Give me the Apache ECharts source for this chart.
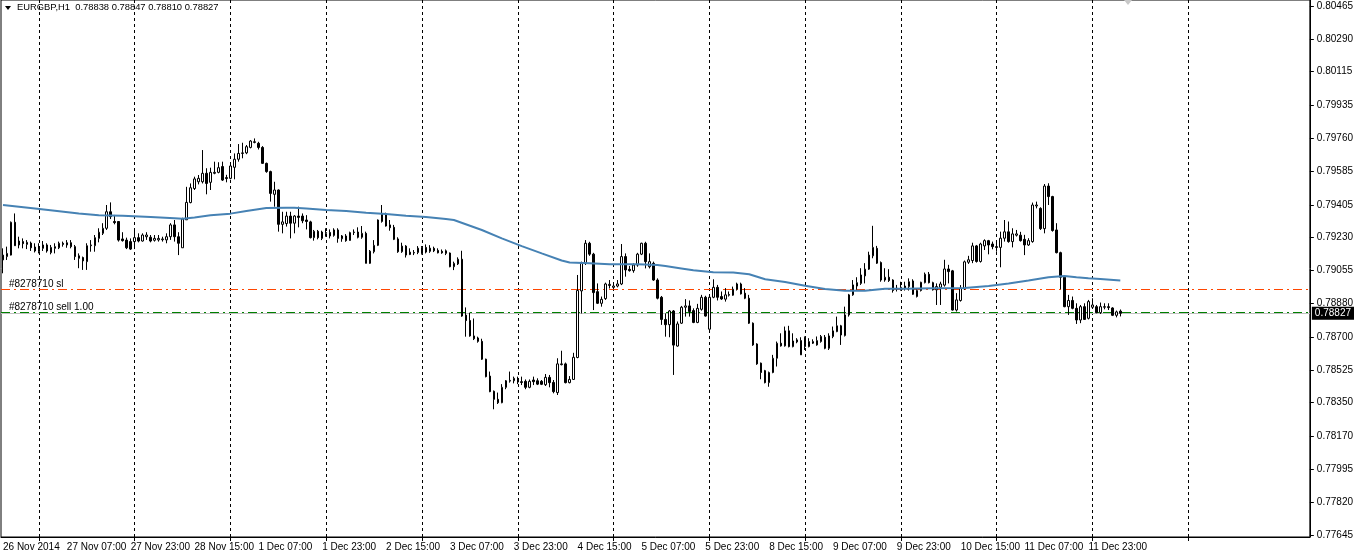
<!DOCTYPE html>
<html><head><meta charset="utf-8">
<script src="https://cdn.jsdelivr.net/npm/echarts@6/dist/echarts.min.js"></script>
<style>html,body{margin:0;padding:0;background:#fff}#c{width:1356px;height:556px}</style>
</head><body><div id="c"></div>
<script>
// prices in points (1 point = 0.00001)
const PT = 1e-5;
const openPts = [79111,79129,79137,79312,79191,79209,79194,79201,79180,79155,79173,79191,79150,79173,79176,79200,79191,79203,79182,79133,79124,79102,79187,79187,79226,79253,79280,79368,79316,79316,79223,79217,79209,79209,79230,79212,79235,79232,79216,79218,79219,79218,79235,79298,79235,79176,79325,79417,79492,79528,79528,79573,79525,79573,79578,79609,79550,79546,79605,79648,79679,79682,79711,79741,79733,79711,79626,79582,79461,79484,79301,79305,79345,79307,79345,79345,79324,79314,79230,79264,79226,79257,79258,79242,79271,79224,79239,79215,79257,79260,79232,79253,79093,79155,79189,79316,79356,79298,79285,79223,79155,79185,79140,79148,79151,79146,79178,79157,79173,79162,79157,79146,79148,79075,79090,79115,78817,78788,78706,78695,78677,78582,78492,78411,78368,78350,78432,78465,78467,78471,78462,78464,78432,78471,78467,78464,78446,78485,78458,78404,78553,78557,78457,78474,78591,78946,79093,79200,79142,78942,78880,78905,78975,78965,78972,78983,79129,79061,79054,79084,79142,79200,79075,79093,79004,78912,78794,78766,78839,78652,78774,78859,78866,78841,78778,78848,78912,78742,78912,78965,78916,78902,78923,78923,78955,78983,78934,78907,78774,78663,78561,78521,78457,78511,78587,78667,78653,78733,78649,78674,78681,78699,78649,78667,78658,78676,78699,78640,78703,78729,78760,78708,78818,78925,78972,78986,79026,79062,79133,79173,79097,79004,79019,79004,78957,78952,78972,78969,78999,78916,78948,78990,79035,78990,78952,78965,78977,79063,79053,78844,78895,78957,79099,79108,79186,79103,79186,79214,79196,79182,79178,79227,79261,79209,79243,79243,79221,79191,79209,79399,79386,79278,79505,79449,79271,79150,79019,78862,78895,78853,78791,78862,78800,78859,78862,78830,78859,78862,78855,78816,78838];
const highPts = [79173,79182,79316,79359,79235,79226,79217,79209,79200,79200,79212,79200,79191,79200,79209,79209,79217,79217,79191,79146,79129,79200,79217,79244,79280,79307,79404,79418,79351,79318,79259,79230,79226,79266,79253,79253,79259,79244,79244,79244,79235,79253,79307,79324,79259,79336,79501,79519,79555,79564,79697,79600,79603,79635,79632,79635,79565,79626,79679,79729,79736,79724,79750,79759,79741,79718,79630,79587,79528,79487,79368,79368,79368,79350,79395,79359,79350,79320,79271,79271,79267,79280,79274,79280,79280,79244,79249,79262,79274,79285,79292,79262,79164,79217,79327,79404,79363,79324,79298,79232,79203,79190,79173,79164,79185,79185,79194,79190,79182,79173,79167,79167,79151,79102,79125,79160,78858,78830,78799,78702,78691,78585,78516,78415,78404,78449,78471,78516,78489,78489,78489,78474,78474,78489,78480,78471,78503,78498,78471,78587,78627,78564,78492,78616,79031,79102,79217,79208,79149,78986,78916,78990,79004,78990,79004,79196,79146,79079,79093,79149,79203,79208,79146,79102,79013,78919,78826,78844,78844,78783,78866,78902,78895,78853,78877,78925,78920,78920,79008,78978,78943,78961,78943,78969,78990,78990,78961,78925,78778,78667,78564,78525,78516,78605,78676,78720,78756,78760,78720,78694,78699,78703,78694,78688,78703,78711,78711,78720,78756,78809,78765,78862,78930,79004,79019,79067,79094,79155,79293,79186,79103,79067,79062,79008,78978,78995,78995,79013,79008,78955,78995,79044,79047,78995,78986,78995,79112,79085,79058,78934,78977,79108,79133,79203,79191,79203,79221,79218,79209,79214,79262,79324,79316,79280,79271,79261,79245,79227,79417,79422,79392,79516,79520,79453,79307,79155,79026,78925,78916,78880,78871,78880,78898,78907,78871,78884,78880,78880,78859,78841,78847];
const lowPts = [79040,79111,79135,79187,79173,79173,79169,79159,79151,79146,79159,79150,79141,79146,79169,79182,79176,79173,79111,79067,79058,79058,79155,79155,79205,79244,79271,79329,79301,79209,79209,79169,79164,79169,79205,79209,79218,79205,79209,79209,79209,79200,79218,79209,79137,79176,79324,79413,79484,79514,79519,79461,79484,79568,79573,79532,79525,79541,79541,79635,79653,79675,79706,79733,79700,79623,79576,79422,79395,79262,79253,79289,79226,79253,79285,79307,79274,79226,79214,79221,79217,79235,79226,79235,79203,79208,79208,79214,79244,79226,79224,79093,79090,79146,79185,79310,79289,79267,79217,79149,79149,79124,79137,79137,79142,79140,79146,79149,79153,79146,79144,79137,79072,79057,79084,78808,78702,78702,78684,78670,78578,78485,78406,78315,78343,78347,78422,78457,78453,78449,78444,78422,78427,78444,78444,78444,78439,78432,78400,78391,78549,78453,78453,78471,78587,78826,79084,79133,78844,78876,78862,78898,78959,78955,78965,78977,79022,79049,79043,79075,79137,79066,79066,79000,78901,78765,78702,78699,78498,78649,78770,78809,78809,78774,78774,78841,78809,78738,78907,78895,78898,78889,78916,78920,78948,78927,78902,78770,78653,78552,78475,78453,78435,78507,78543,78649,78649,78645,78645,78667,78605,78631,78645,78663,78654,78670,78635,78631,78694,78726,78658,78703,78809,78920,78952,78978,78986,79058,79120,79090,78995,78995,78994,78937,78943,78948,78948,78948,78925,78911,78943,78986,78986,78948,78871,78871,78969,78986,78841,78836,78889,78952,79090,79094,79097,79097,79164,79141,79168,79155,79072,79209,79203,79178,79236,79209,79137,79186,79203,79386,79271,79253,79404,79262,79146,78955,78859,78818,78848,78770,78774,78791,78794,78853,78827,78823,78848,78844,78812,78805,78810];
const closePts = [79137,79146,79312,79187,79212,79198,79205,79176,79159,79169,79191,79159,79178,79182,79200,79194,79203,79182,79129,79120,79106,79187,79191,79230,79259,79280,79368,79342,79310,79217,79214,79176,79169,79230,79212,79244,79244,79212,79226,79226,79223,79235,79298,79235,79200,79329,79418,79496,79543,79546,79573,79519,79578,79578,79603,79537,79545,79612,79648,79679,79682,79715,79745,79738,79711,79626,79582,79466,79484,79301,79314,79345,79307,79345,79338,79320,79316,79230,79264,79230,79260,79253,79239,79271,79226,79239,79214,79257,79260,79232,79253,79093,79158,79189,79324,79356,79292,79283,79221,79155,79185,79137,79153,79151,79174,79178,79153,79174,79160,79149,79149,79160,79075,79093,79115,78812,78788,78706,78691,78677,78582,78489,78409,78368,78350,78432,78467,78469,78480,78460,78458,78432,78464,78462,78449,78448,78485,78457,78409,78557,78557,78457,78474,78592,78948,79093,79200,79142,78937,78880,78901,78983,78981,78972,78983,79129,79058,79054,79084,79142,79200,79102,79102,79004,78907,78794,78766,78839,78657,78770,78859,78866,78836,78778,78853,78912,78812,78912,78965,78912,78903,78925,78927,78955,78983,78930,78907,78774,78658,78557,78511,78457,78511,78587,78667,78653,78733,78649,78679,78685,78605,78649,78676,78676,78681,78703,78640,78706,78733,78760,78711,78818,78925,78978,78990,79031,79062,79137,79178,79094,79004,79019,79001,78948,78960,78965,78960,78995,78928,78948,78992,79035,78990,78952,78969,78983,79063,79049,78844,78898,78960,79101,79112,79186,79103,79196,79214,79191,79182,79178,79227,79261,79209,79250,79250,79214,79191,79214,79404,79404,79278,79505,79449,79268,79150,79019,78862,78895,78853,78791,78862,78794,78889,78871,78830,78862,78862,78857,78816,78834,78827];
// moving average: [bar index, points]
const maPts = [[0,79404],[8,79386],[13,79374],[19,79359],[24,79350],[30,79347],[37,79340],[43,79334],[45,79331],[48,79338],[52,79349],[57,79358],[61,79372],[66,79388],[71,79390],[73,79390],[76,79386],[81,79377],[86,79372],[91,79363],[96,79356],[101,79347],[106,79340],[111,79329],[113,79324],[120,79271],[125,79226],[130,79185],[135,79146],[140,79108],[142,79097],[147,79093],[152,79088],[159,79088],[164,79084],[166,79079],[170,79066],[173,79056],[178,79045],[183,79044],[187,79035],[191,79008],[196,78994],[201,78974],[206,78956],[211,78947],[216,78947],[221,78958],[226,78958],[233,78960],[241,78961],[247,78972],[252,78986],[257,79001],[262,79019],[266,79026],[269,79019],[272,79013],[275,79010],[280,79001]];
const xTickLabels = ['26 Nov 2014','27 Nov 07:00','27 Nov 23:00','28 Nov 15:00','1 Dec 07:00','1 Dec 23:00','2 Dec 15:00','3 Dec 07:00','3 Dec 23:00','4 Dec 15:00','5 Dec 07:00','5 Dec 23:00','8 Dec 15:00','9 Dec 07:00','9 Dec 23:00','10 Dec 15:00','11 Dec 07:00','11 Dec 23:00'];
const xLabelEvery = 16;
const dayStartBars = [9,33,57,81,105,129,153,177,201,225,249,273,297];
const yTickLabels = ['0.77645','0.77820','0.77995','0.78170','0.78350','0.78525','0.78700','0.78880','0.79055','0.79230','0.79405','0.79585','0.79760','0.79935','0.80115','0.80290','0.80465'];
const totalSlots = 328;
const headerText = 'EURGBP,H1  0.78838 0.78847 0.78810 0.78827';
const slPrice = 0.78955, slText = '#8278710 sl';
const sellPrice = 0.78832, sellText = '#8278710 sell 1.00';
const bidPrice = 0.78827;
const yMin = 0.77634, yMax = 0.80497;

const cats = Array.from({length: totalSlots}, (_, i) => String(i));
const candles = openPts.map((o, i) => [o*PT, closePts[i]*PT, lowPts[i]*PT, highPts[i]*PT]);
const ma = maPts.map(p => [p[0], p[1]*PT]);
const daySet = new Set(dayStartBars);
const FONT = 'Liberation Sans';

const chart = echarts.init(document.getElementById('c'), null, {renderer: 'canvas'});
chart.setOption({
  animation: false,
  backgroundColor: '#fff',
  textStyle: {fontFamily: FONT},
  grid: {left: 0.5, right: 43.5, top: 0, bottom: 19, show: true, borderColor: '#000', borderWidth: 1, backgroundColor: 'transparent'},
  xAxis: {
    type: 'category', data: cats, boundaryGap: true,
    axisLine: {show: true, lineStyle: {color: '#000'}},
    axisTick: {show: true, alignWithLabel: true, length: 4, lineStyle: {color: '#000'},
      interval: (i) => daySet.has(i)},
    axisLabel: {show: true, color: '#000', fontSize: 10, fontFamily: FONT, align: 'left', margin: 5,
      interval: (i) => i % xLabelEvery === 0 && i / xLabelEvery < xTickLabels.length,
      formatter: (v, i) => xTickLabels[Math.round(Number(v) / xLabelEvery)] || ''},
    splitLine: {show: false}
  },
  yAxis: {
    type: 'value', position: 'right', min: yMin, max: yMax, scale: true,
    axisLine: {show: true, lineStyle: {color: '#000'}},
    axisTick: {show: true, length: 4, lineStyle: {color: '#000'}, customValues: yTickLabels.map(Number)},
    axisLabel: {show: true, color: '#000', fontSize: 10, fontFamily: FONT, margin: 7,
      customValues: yTickLabels.map(Number), formatter: (v) => v.toFixed(5)},
    splitLine: {show: false}
  },
  series: [
    {
      type: 'line', data: [], z: 1, silent: true,
      markLine: {
        silent: true, symbol: 'none', animation: false, z: 1,
        data: dayStartBars.map(b => ({xAxis: b, lineStyle: {color: '#000', type: [3, 3], width: 1}, label: {show: false}}))
      }
    },
    {
      type: 'candlestick', data: candles, barWidth: 2, z: 3,
      itemStyle: {color: '#fff', color0: '#000', borderColor: '#000', borderColor0: '#000', borderWidth: 1}
    },
    {
      type: 'line', data: ma, showSymbol: false, z: 4, silent: true,
      lineStyle: {color: '#4682b4', width: 2},
      markLine: {
        silent: true, symbol: 'none', animation: false, z: 2, precision: 5,
        data: [
          {yAxis: bidPrice, lineStyle: {color: '#c0c0c0', type: 'solid', width: 1},
            label: {show: true, position: 'end', distance: 2, formatter: bidPrice.toFixed(5), color: '#fff', backgroundColor: '#000', padding: [2, 3, 1, 3], fontSize: 10, fontFamily: FONT}},
          {yAxis: slPrice, lineStyle: {color: '#ff4500', type: [9, 4, 2, 4], width: 1},
            label: {show: true, position: 'insideStartTop', distance: [8, 0], formatter: slText, color: '#000', fontSize: 10, fontFamily: FONT}},
          {yAxis: sellPrice, lineStyle: {color: '#008000', type: [9, 4, 2, 4], width: 1},
            label: {show: true, position: 'insideStartTop', distance: [8, 0], formatter: sellText, color: '#000', fontSize: 10, fontFamily: FONT}}
        ]
      }
    }
  ],
  graphic: [
    {type: 'polygon', shape: {points: [[5, 6], [11, 6], [8, 10]]}, style: {fill: '#000'}},
    {type: 'text', left: 17, top: 3, style: {text: headerText, fill: '#000', font: '9.4px ' + FONT}},
    {type: 'polygon', shape: {points: [[1124, 0], [1132, 0], [1128, 5]]}, style: {fill: '#c8c8c8'}}
  ]
});
</script></body></html>
